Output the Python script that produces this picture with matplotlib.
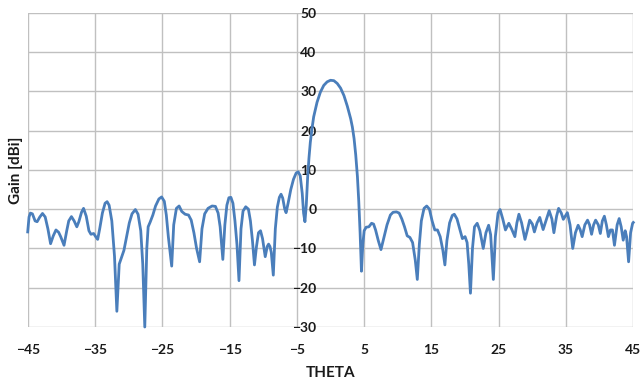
import matplotlib
matplotlib.use("Agg")
import matplotlib.pyplot as plt

theta = [
    -45.0, -44.8, -44.6, -44.3, -43.9, -43.6, -43.2, -42.8, -42.4, -42.0,
    -41.6, -41.2, -40.8, -40.4, -40.1, -39.6, -39.2, -38.9, -38.5, -38.1,
    -37.7, -37.4, -37.0, -36.7, -36.3, -35.9, -35.6, -35.2, -34.9, -34.6,
    -34.3, -33.9, -33.5, -33.2, -32.9, -32.5, -32.1, -31.75, -31.4, -31.1,
    -30.7, -30.3, -29.9, -29.5, -29.0, -28.6, -28.2, -27.9, -27.6, -27.3,
    -27.1, -26.8, -26.4, -26.0, -25.5, -25.1, -24.7, -24.4, -24.1, -23.6,
    -23.3, -22.9, -22.5, -22.1, -21.6, -21.1, -20.7, -20.3, -19.9, -19.45,
    -19.1, -18.7, -18.2, -17.6, -17.1, -16.7, -16.4, -16.0, -15.7, -15.4,
    -15.1, -14.8, -14.5, -14.2, -13.9, -13.6, -13.3, -13.0, -12.6, -12.2,
    -11.9, -11.6, -11.3, -11.0, -10.7, -10.4, -10.1, -9.7, -9.4, -9.2,
    -9.0, -8.8, -8.5, -8.2, -7.9, -7.6, -7.35, -7.1, -6.8, -6.6,
    -6.3, -5.9, -5.5, -5.1, -4.8, -4.5, -4.2, -4.0, -3.8, -3.6,
    -3.4, -3.2, -3.0, -2.75, -2.5, -2.0, -1.5, -1.0, -0.5, 0.0,
    0.5, 1.0, 1.5, 2.0, 2.5, 3.0, 3.25, 3.5, 3.75, 4.0,
    4.2, 4.4, 4.6, 4.8, 5.0, 5.3, 5.7, 6.1, 6.4, 6.7,
    7.1, 7.5, 7.9, 8.4, 8.9, 9.3, 9.8, 10.2, 10.6, 11.0,
    11.4, 11.8, 12.2, 12.6, 12.9, 13.2, 13.5, 13.9, 14.3, 14.7,
    15.1, 15.5, 15.9, 16.3, 16.7, 17.0, 17.3, 17.7, 18.1, 18.4,
    18.8, 19.2, 19.6, 20.0, 20.3, 20.55, 20.8, 21.1, 21.4, 21.8,
    22.2, 22.7, 23.1, 23.5, 23.8, 24.2, 24.5, 24.9, 25.2, 25.6,
    26.0, 26.5, 26.9, 27.4, 27.7, 28.0, 28.4, 28.9, 29.3, 29.6,
    30.0, 30.3, 30.7, 31.1, 31.6, 32.1, 32.5, 32.9, 33.2, 33.6,
    33.9, 34.3, 34.6, 35.2, 35.6, 36.0, 36.4, 36.8, 37.1, 37.4,
    37.8, 38.2, 38.5, 38.8, 39.1, 39.4, 39.8, 40.1, 40.4, 40.7,
    41.0, 41.3, 41.6, 41.9, 42.2, 42.6, 42.9, 43.2, 43.5, 43.8,
    44.0, 44.3, 44.6, 44.9, 45.0,
]

gain_dbi = [
    -5.8, -2.0, -1.0, -1.2, -3.0, -3.2, -2.0, -1.1, -2.0, -5.0,
    -8.8, -6.8, -5.3, -5.9, -7.0, -9.2, -5.5, -3.0, -1.9, -3.0,
    -4.5, -3.2, -0.8, 0.2, -1.8, -5.5, -6.4, -6.2, -7.0, -7.7,
    -5.0, -1.0, 1.5, 1.9, 1.0, -3.0, -12.0, -26.0, -14.0, -12.5,
    -10.5, -7.0, -3.5, -1.2, -0.1, -1.3, -5.5, -14.0, -30.0, -10.0,
    -4.5, -3.3, -1.5, 0.8, 2.6, 3.1, 2.0, -1.5, -7.0, -14.5,
    -4.0, 0.2, 0.8, -0.6, -1.3, -1.5, -2.8, -6.0, -10.0, -13.4,
    -5.0, -1.2, 0.2, 0.8, 0.7, -1.0, -4.5, -12.8, -4.0, 1.0,
    2.9, 3.0, 1.5, -3.0, -9.0, -18.2, -5.0, -0.5, 0.6, 0.0,
    -3.0, -8.0, -14.2, -9.5, -6.0, -5.5, -7.5, -12.1, -9.5, -8.9,
    -9.5, -11.0, -16.8, -5.0, 0.5, 3.0, 3.8, 2.8, 0.0, -0.9,
    1.5, 5.0, 7.6, 9.2, 9.5, 8.5, 4.0, -1.0, -3.2, 1.0,
    8.0, 13.0, 17.0, 20.5, 23.5, 27.2, 29.8, 31.5, 32.4, 32.8,
    32.7, 32.0, 30.8, 28.9, 26.2, 23.0, 20.9, 18.0, 13.8, 8.3,
    2.0, -6.0, -15.8, -9.0, -5.5, -4.6, -4.5, -3.6, -3.8, -5.3,
    -8.0, -10.3, -7.5, -4.0, -1.5, -0.8, -0.7, -1.0, -2.5, -4.5,
    -6.8, -7.2, -8.5, -13.0, -17.9, -9.0, -3.0, 0.2, 0.8, 0.0,
    -3.0, -5.3, -5.3, -7.0, -10.5, -14.2, -8.0, -3.5, -1.6, -1.3,
    -2.5, -5.0, -7.5, -7.0, -8.5, -14.0, -21.4, -10.0, -4.5, -3.6,
    -5.5, -10.0, -6.0, -4.1, -6.5, -17.9, -7.0, -1.0, -0.1, -2.5,
    -5.3, -3.6, -5.0, -7.0, -3.5, -1.3, -3.5, -7.7, -5.0, -2.8,
    -3.8, -5.8, -3.5, -2.1, -5.2, -2.5, -0.4, -2.5, -6.0, -1.8,
    0.2, -1.0, -2.6, -0.9, -4.0, -10.0, -6.0, -4.1, -5.2, -7.0,
    -4.0, -2.8, -4.0, -6.4, -4.0, -2.8, -4.0, -6.2, -3.0, -1.8,
    -4.0, -7.0, -5.3, -5.3, -9.2, -4.0, -2.4, -4.5, -7.9, -5.5,
    -7.0, -13.4, -6.0, -3.6, -3.4,
]

x_ticks = [-45, -35, -25, -15, -5, 5, 15, 25, 35, 45]
y_ticks = [-30, -20, -10, 0, 10, 20, 30, 40, 50]
x_label = "THETA"
y_label = "Gain [dBi]"

plt.rcParams['font.family'] = ['Lato', 'DejaVu Sans']

fig = plt.figure(figsize=(6.41, 3.83), dpi=100)
ax_w = 633.3 - 27.7
ax = fig.add_axes([27.7 / 641, 1 - 327 / 383, ax_w / 641, (327 - 12.7) / 383])

ax.plot(theta, gain_dbi, color="#4A7EBB", linewidth=2.0, solid_joinstyle="round",
        zorder=3, clip_on=False)

ax.set_xlim(-45, 45)
ax.set_ylim(-30, 50)
ax.set_xticks(x_ticks)
ax.set_yticks(y_ticks)
ax.grid(True, color="#C0C0C0", linewidth=1.0)
ax.set_axisbelow(True)
for s in ax.spines.values():
    s.set_visible(False)
ax.spines['left'].set_position(('data', -5))

ax.tick_params(axis='x', length=0, pad=12.5, labelsize=10)
ax.tick_params(axis='y', length=0, pad=-14, labelsize=10)
for lbl in ax.get_xticklabels() + ax.get_yticklabels():
    lbl.set_fontweight('bold')
    lbl.set_color('#1a1a1a')

ax.set_xlabel(x_label, fontsize=11, fontweight='bold', color='#1a1a1a', labelpad=7)
ax.set_ylabel(y_label, fontsize=11, fontweight='bold', color='#1a1a1a')
ax.yaxis.set_label_coords((23 - 27.7) / ax_w, 0.5)

fig.savefig("out.png", dpi=100, facecolor="white")
